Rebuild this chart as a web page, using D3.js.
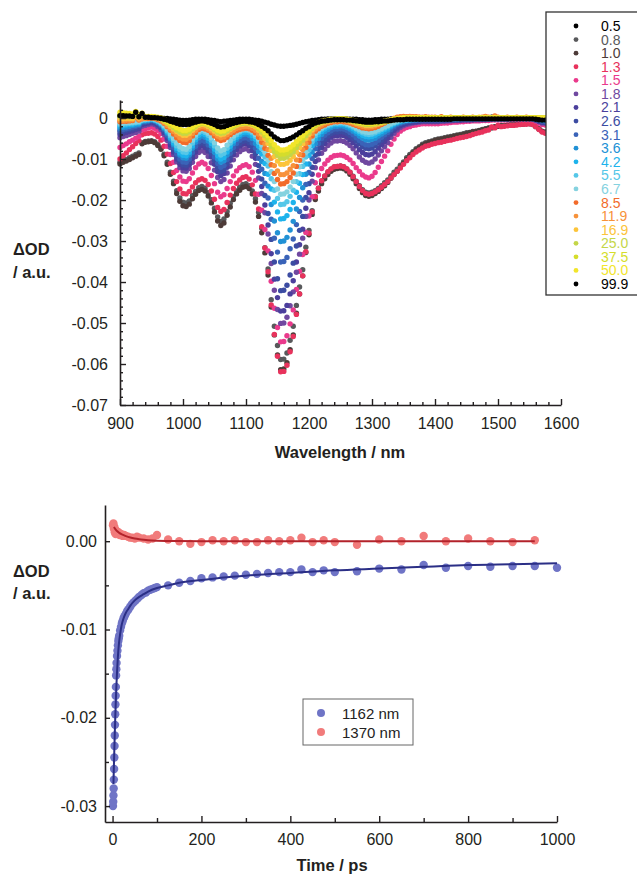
<!DOCTYPE html>
<html><head><meta charset="utf-8">
<script src="https://cdn.jsdelivr.net/npm/d3@7"></script>
<style>
body{margin:0;background:#fff}
svg{display:block}
text{font-family:"Liberation Sans",Arial,Helvetica,sans-serif}
</style>
</head><body>
<svg id="c" width="637" height="874"></svg>
<script>
// ---------- DATA : transient spectra (ΔOD × 10^4), wavelength grid 900–1580 nm, 5 nm step ----------
const wavelengths = d3.range(900, 1581, 5);
const delays = ["0.5","0.8","1.0","1.3","1.5","1.8","2.1","2.6","3.1","3.6","4.2","5.5","6.7","8.5","11.9","16.9","25.0","37.5","50.0","99.9"];

const od_0p5 = [4,4,3,3,3,12,2,9,1,1,1,1,0,0,-1,-1,-2,-3,-4,-5,-6,-6,-5,-4,-3,-3,-3,-3,-4,-5,-6,-8,-9,-8,-7,-6,-5,-4,-3,-3,-3,-3,-4,-5,-6,-8,-10,-12,-15,-17,-19,-20,-20,-19,-18,-17,-15,-13,-11,-9,-8,-6,-5,-4,-3,-3,-2,-2,-2,-2,-2,-2,-2,-3,-3,-3,-4,-4,-5,-5,-5,-4,-4,-3,-3,-3,-2,-2,-2,-1,-1,-1,-1,0,0,0,0,1,0,0,0,1,0,0,-1,0,0,1,0,0,0,0,1,0,0,0,-1,0,2,1,0,0,0,1,0,0,0,0,0,0,0,0,-1,-1,-2,-2,-3];
const od_0p8 = [-108,-104,-101,-97,-93,-89,-85,-60,-57,-56,-55,-58,-64,-73,-88,-108,-132,-154,-177,-195,-205,-207,-202,-189,-179,-170,-167,-171,-182,-199,-220,-241,-252,-246,-228,-208,-191,-178,-169,-162,-160,-165,-178,-197,-230,-269,-316,-368,-443,-508,-555,-589,-588,-573,-542,-508,-457,-412,-370,-315,-274,-226,-191,-171,-154,-142,-132,-125,-120,-118,-117,-119,-124,-132,-142,-154,-165,-175,-181,-183,-181,-177,-172,-165,-158,-151,-141,-132,-125,-115,-107,-97,-89,-82,-75,-70,-64,-60,-58,-56,-53,-51,-50,-48,-46,-45,-43,-41,-40,-38,-36,-35,-33,-32,-30,-28,-26,-24,-23,-21,-19,-18,-18,-17,-16,-16,-15,-14,-14,-13,-13,-15,-20,-26,-32,-34,-35];
const od_1p0 = [-112,-108,-105,-101,-97,-93,-89,-63,-59,-58,-57,-60,-67,-76,-92,-113,-137,-160,-184,-203,-214,-216,-210,-197,-186,-177,-174,-178,-190,-207,-229,-251,-262,-256,-237,-217,-199,-185,-176,-169,-167,-172,-185,-205,-240,-280,-329,-383,-461,-529,-578,-614,-612,-597,-565,-529,-476,-429,-385,-328,-285,-235,-199,-178,-160,-148,-138,-130,-125,-123,-122,-124,-129,-137,-148,-160,-172,-182,-189,-191,-189,-184,-179,-172,-165,-157,-147,-138,-130,-120,-111,-101,-93,-85,-78,-73,-67,-63,-60,-58,-55,-53,-52,-50,-48,-47,-45,-43,-42,-40,-38,-36,-34,-33,-31,-29,-27,-25,-24,-22,-20,-19,-19,-18,-17,-17,-16,-15,-15,-14,-14,-16,-21,-27,-33,-35,-36];
const od_1p3 = [-100,-92,-85,-77,-70,-62,-55,-41,-38,-37,-36,-39,-45,-54,-69,-88,-111,-133,-155,-173,-184,-185,-179,-168,-158,-151,-148,-152,-162,-178,-198,-218,-228,-223,-206,-188,-172,-159,-151,-145,-143,-149,-163,-185,-222,-265,-317,-375,-456,-528,-581,-619,-618,-603,-570,-533,-479,-429,-385,-326,-281,-229,-192,-171,-153,-141,-131,-124,-119,-118,-117,-119,-124,-132,-143,-155,-167,-177,-184,-186,-184,-180,-175,-169,-162,-155,-146,-138,-130,-122,-113,-104,-97,-89,-83,-78,-73,-69,-67,-64,-62,-60,-59,-57,-55,-54,-52,-50,-48,-47,-45,-43,-40,-38,-36,-34,-31,-29,-22,-24,-18,-21,-20,-19,-18,-18,-17,-16,-15,-15,-14,-16,-21,-28,-34,-37,-38];
const od_1p5 = [-72,-67,-63,-58,-54,-49,-45,-29,-26,-24,-22,-25,-30,-38,-51,-69,-89,-108,-128,-144,-154,-155,-148,-134,-121,-112,-108,-112,-123,-140,-160,-181,-192,-187,-172,-155,-141,-129,-121,-116,-114,-119,-132,-152,-186,-225,-272,-324,-398,-464,-511,-546,-545,-531,-502,-468,-418,-374,-333,-279,-239,-192,-158,-139,-123,-112,-103,-96,-92,-91,-90,-92,-96,-102,-111,-121,-130,-139,-144,-146,-142,-133,-120,-106,-93,-80,-64,-51,-40,-32,-27,-23,-21,-18,-17,-15,-14,-14,-14,-14,-14,-14,-13,-12,-12,-11,-10,-10,-9,-9,-8,-8,-7,-7,-7,-6,-6,-6,-5,-5,-5,-5,-5,-5,-4,-4,-4,-4,-4,-4,-4,-5,-8,-12,-16,-17,-18];
const od_1p8 = [-48,-45,-43,-40,-37,-35,-32,-20,-18,-16,-14,-16,-21,-28,-40,-55,-72,-89,-107,-121,-129,-130,-123,-108,-94,-84,-80,-84,-94,-109,-127,-145,-155,-150,-134,-117,-102,-90,-82,-77,-75,-80,-93,-113,-146,-184,-231,-283,-355,-420,-467,-501,-500,-486,-458,-424,-376,-332,-293,-240,-200,-154,-121,-102,-86,-76,-67,-61,-56,-56,-55,-57,-61,-67,-75,-85,-95,-103,-108,-110,-107,-100,-90,-80,-70,-60,-47,-37,-29,-23,-19,-16,-14,-12,-11,-10,-9,-9,-9,-9,-9,-9,-8,-8,-7,-7,-6,-6,-6,-5,-5,-5,-4,-4,-4,-4,-4,-3,-3,-3,-3,-3,-3,-3,-2,-2,-2,-2,-2,-2,-2,-3,-6,-9,-12,-13,-14];
const od_2p1 = [-40,-38,-35,-33,-31,-28,-26,-16,-14,-12,-10,-12,-17,-23,-35,-49,-66,-83,-100,-113,-121,-122,-114,-98,-83,-72,-68,-72,-81,-95,-113,-131,-140,-135,-120,-103,-89,-77,-69,-64,-62,-67,-79,-98,-130,-167,-212,-261,-331,-393,-438,-471,-470,-457,-429,-397,-351,-309,-271,-220,-182,-137,-106,-87,-72,-62,-54,-47,-43,-43,-42,-43,-47,-53,-60,-68,-77,-84,-89,-90,-88,-82,-73,-65,-57,-49,-39,-30,-24,-19,-15,-13,-11,-10,-9,-8,-7,-7,-7,-7,-7,-7,-6,-6,-6,-5,-5,-5,-5,-4,-4,-4,-4,-3,-3,-3,-3,-3,-2,-2,-2,-2,-2,-2,-2,-1,-1,-1,-1,-1,-1,-2,-4,-8,-10,-11,-12];
const od_2p6 = [-34,-32,-30,-28,-26,-24,-22,-13,-11,-10,-8,-10,-14,-21,-32,-45,-62,-78,-94,-106,-114,-115,-107,-90,-75,-64,-60,-64,-73,-87,-103,-121,-130,-126,-111,-95,-81,-69,-62,-57,-55,-60,-70,-87,-116,-149,-189,-233,-296,-351,-392,-421,-420,-408,-383,-354,-312,-274,-240,-194,-160,-120,-91,-75,-61,-52,-44,-38,-34,-34,-33,-34,-37,-42,-49,-56,-63,-70,-74,-75,-73,-68,-61,-54,-47,-40,-32,-25,-19,-15,-12,-10,-9,-7,-6,-6,-5,-5,-5,-5,-5,-5,-5,-4,-4,-4,-4,-3,-3,-3,-3,-3,-3,-2,-2,-2,-2,-2,-1,-1,-1,-1,-1,-1,-1,0,0,0,0,0,0,-1,-3,-6,-9,-10,-10];
const od_3p1 = [-30,-28,-26,-24,-22,-20,-18,-10,-9,-8,-6,-8,-12,-18,-28,-42,-57,-72,-88,-100,-107,-108,-100,-84,-69,-58,-54,-57,-66,-79,-95,-111,-120,-116,-101,-86,-72,-62,-54,-49,-48,-52,-61,-74,-98,-125,-159,-195,-247,-293,-327,-351,-350,-340,-319,-295,-260,-228,-200,-162,-133,-99,-75,-62,-50,-42,-36,-31,-27,-27,-26,-27,-30,-35,-41,-48,-55,-61,-65,-66,-64,-60,-54,-47,-41,-35,-28,-21,-16,-13,-10,-8,-7,-6,-5,-5,-4,-4,-4,-4,-4,-4,-4,-3,-3,-3,-3,-3,-2,-2,-2,-2,-2,-1,-1,-1,-1,-1,0,0,0,0,0,0,0,0,0,0,0,0,0,-1,-2,-5,-7,-8,-8];
const od_3p6 = [-25,-23,-22,-20,-18,-17,-15,-8,-7,-6,-4,-6,-10,-15,-25,-37,-51,-65,-79,-90,-97,-98,-90,-74,-59,-48,-44,-47,-56,-68,-84,-100,-108,-104,-90,-76,-62,-52,-45,-40,-39,-42,-50,-62,-82,-106,-135,-166,-211,-251,-280,-301,-300,-291,-273,-252,-222,-194,-170,-137,-112,-83,-62,-50,-40,-33,-28,-23,-20,-20,-19,-20,-23,-27,-32,-38,-44,-49,-53,-54,-52,-49,-44,-39,-34,-29,-22,-17,-13,-10,-8,-6,-5,-4,-4,-3,-3,-3,-3,-3,-3,-3,-3,-2,-2,-2,-2,-2,-1,-1,-1,-1,-1,-1,0,0,0,0,0,0,0,0,0,0,0,1,1,1,1,1,1,0,-1,-3,-5,-6,-6];
const od_4p2 = [-20,-19,-17,-16,-15,-13,-12,-6,-5,-4,-3,-5,-8,-14,-23,-34,-48,-61,-74,-85,-91,-92,-84,-68,-53,-42,-38,-41,-49,-62,-76,-92,-100,-96,-83,-69,-56,-47,-40,-35,-34,-36,-43,-52,-69,-88,-111,-137,-173,-205,-229,-246,-245,-238,-223,-206,-181,-159,-138,-112,-91,-68,-51,-41,-33,-27,-22,-19,-16,-16,-15,-16,-18,-22,-26,-32,-37,-42,-45,-46,-45,-42,-37,-33,-28,-24,-19,-14,-11,-8,-6,-5,-4,-3,-3,-2,-2,-2,-2,-2,-2,-2,-2,-2,-2,-2,-2,-2,-1,-1,-1,-1,-1,-1,-1,-1,0,-1,-1,-1,-1,-1,-1,-1,-1,-1,-1,-1,-1,-1,-1,-1,-2,-3,-4,-5,-5];
const od_5p5 = [-16,-15,-14,-13,-12,-11,-10,-5,-4,-3,-2,-4,-7,-12,-20,-31,-43,-55,-68,-77,-83,-84,-76,-61,-47,-36,-32,-35,-42,-54,-68,-82,-90,-86,-74,-61,-50,-41,-34,-30,-29,-31,-36,-45,-59,-75,-95,-117,-148,-176,-196,-211,-210,-204,-191,-176,-155,-136,-118,-95,-78,-58,-43,-34,-27,-22,-18,-15,-13,-13,-12,-13,-15,-18,-22,-27,-32,-36,-39,-40,-39,-36,-32,-28,-24,-20,-16,-12,-9,-6,-5,-4,-3,-2,-2,-1,-1,-1,-1,-1,-1,-1,-1,-1,-1,-1,-1,-1,0,-1,-1,-1,0,-1,-1,-1,-1,-1,0,-1,-1,-1,-1,-1,-1,-1,-1,-1,-1,-1,-1,-1,-2,-3,-3,-4,-4];
const od_6p7 = [-13,-12,-11,-11,-10,-9,-8,-4,-3,-2,-1,-3,-6,-10,-18,-27,-39,-50,-61,-70,-75,-76,-69,-54,-41,-32,-28,-31,-37,-48,-60,-73,-80,-77,-66,-55,-44,-36,-31,-27,-26,-28,-32,-40,-52,-66,-84,-103,-131,-155,-173,-186,-185,-180,-168,-155,-137,-119,-104,-84,-68,-50,-37,-30,-24,-19,-16,-13,-11,-11,-10,-11,-13,-16,-19,-24,-28,-32,-34,-35,-34,-32,-28,-25,-21,-18,-13,-10,-7,-5,-4,-2,-2,-1,-1,0,0,0,0,0,0,-1,-1,-1,0,-1,-1,-1,-1,-1,-1,-1,-1,-1,-1,0,-1,-1,-1,-1,-1,-1,-1,-1,-1,-1,-1,-1,-1,-1,-1,-1,-1,-2,-2,-3,-3];
const od_8p5 = [-9,-8,-8,-7,-6,2,-5,-2,-1,-1,0,-1,-4,-7,-13,-21,-30,-39,-48,-55,-59,-60,-55,-44,-35,-28,-25,-27,-30,-36,-44,-51,-55,-53,-47,-41,-35,-31,-28,-26,-25,-26,-30,-36,-47,-59,-74,-91,-114,-135,-150,-161,-160,-155,-145,-134,-118,-103,-90,-72,-59,-44,-32,-26,-20,-17,-13,-11,-9,-9,-8,-9,-10,-12,-15,-18,-21,-24,-25,-26,-25,-23,-20,-16,-12,-8,-4,-1,2,3,4,3,4,3,3,2,2,3,2,2,2,1,3,1,1,2,1,0,1,2,1,1,2,1,1,2,4,2,1,5,2,1,1,2,1,1,2,1,1,2,1,1,1,0,-1,-2,-2];
const od_11p9 = [-6,-6,-5,-5,-4,4,-3,-1,0,1,1,0,-2,-5,-11,-18,-26,-33,-41,-48,-51,-52,-47,-38,-30,-23,-21,-22,-26,-31,-38,-44,-48,-46,-41,-35,-30,-25,-23,-21,-20,-21,-25,-30,-39,-50,-63,-77,-98,-116,-129,-138,-138,-134,-125,-116,-102,-89,-77,-62,-50,-37,-27,-21,-17,-13,-11,-8,-7,-6,-6,-6,-8,-10,-12,-15,-18,-20,-22,-22,-21,-19,-16,-13,-10,-7,-4,-1,1,2,2,2,3,2,2,2,1,2,1,1,1,0,1,1,0,1,1,0,0,1,0,1,1,0,1,1,3,1,0,3,1,0,1,1,0,1,1,0,1,1,0,0,0,0,0,-1,-1];
const od_16p9 = [-2,-2,-1,-1,-1,6,0,5,1,2,2,1,0,-3,-8,-13,-20,-27,-33,-38,-42,-42,-38,-30,-23,-18,-16,-17,-21,-26,-32,-38,-41,-39,-34,-28,-23,-19,-16,-15,-14,-15,-18,-22,-30,-39,-50,-62,-79,-94,-105,-113,-113,-110,-103,-94,-83,-72,-63,-50,-40,-29,-21,-16,-12,-10,-8,-6,-5,-4,-4,-4,-5,-7,-9,-12,-14,-16,-18,-18,-17,-16,-14,-12,-10,-8,-6,-4,-2,-1,0,1,1,1,1,1,1,1,1,1,0,0,1,0,0,1,0,0,1,0,0,1,0,0,2,0,1,0,0,0,0,1,0,0,1,1,1,1,1,1,1,1,1,0,0,0,0];
const od_25p0 = [4,4,4,3,3,10,3,8,2,3,3,2,1,-2,-6,-11,-17,-23,-29,-34,-37,-37,-33,-26,-20,-15,-13,-14,-17,-22,-28,-34,-37,-36,-31,-25,-21,-17,-14,-13,-12,-13,-15,-19,-26,-34,-43,-54,-69,-82,-91,-98,-98,-95,-89,-82,-72,-62,-54,-43,-35,-25,-18,-14,-10,-8,-6,-5,-4,-3,-3,-3,-4,-6,-8,-10,-12,-14,-16,-16,-15,-14,-12,-11,-9,-7,-5,-3,-2,-1,0,1,1,1,1,1,1,1,1,1,0,0,0,0,0,0,0,0,0,0,0,0,0,0,0,0,0,0,0,0,0,0,0,0,0,0,0,0,0,0,1,1,0,0,0,0,0];
const od_37p5 = [8,7,7,6,6,13,5,10,3,3,3,2,1,-1,-5,-10,-15,-20,-26,-30,-33,-33,-30,-24,-18,-14,-12,-13,-16,-20,-26,-31,-34,-33,-28,-23,-19,-15,-13,-11,-11,-12,-14,-18,-24,-30,-39,-48,-62,-74,-82,-88,-88,-85,-80,-73,-64,-56,-48,-38,-31,-22,-16,-12,-9,-7,-5,-4,-3,-2,-2,-2,-3,-5,-6,-9,-11,-12,-14,-14,-14,-13,-11,-10,-8,-6,-5,-3,-2,-1,0,0,0,1,1,1,1,1,1,1,0,0,0,0,0,0,0,0,0,0,0,0,0,0,0,0,0,0,0,0,0,0,0,0,0,0,0,0,0,0,1,1,0,0,0,0,0];
const od_50p0 = [14,13,12,11,10,16,8,12,4,4,4,3,2,0,-3,-8,-13,-18,-23,-27,-30,-30,-27,-21,-16,-13,-11,-12,-15,-19,-24,-29,-32,-31,-26,-22,-17,-14,-12,-10,-10,-11,-13,-16,-21,-27,-35,-43,-55,-65,-73,-78,-78,-76,-71,-65,-57,-50,-43,-34,-27,-20,-14,-11,-8,-6,-5,-3,-3,-2,-2,-2,-3,-4,-6,-8,-10,-12,-13,-13,-13,-12,-10,-9,-7,-6,-4,-3,-2,-1,0,0,0,1,1,1,1,1,1,1,0,0,0,0,0,0,0,0,0,0,0,0,0,0,0,0,0,0,0,0,0,0,0,0,0,0,0,0,0,0,1,1,0,0,0,0,0];
const od_99p9 = [6,6,5,5,4,14,3,11,2,2,1,1,0,-1,-3,-5,-8,-10,-13,-15,-16,-16,-15,-12,-10,-8,-7,-8,-10,-13,-16,-20,-22,-21,-18,-15,-13,-11,-9,-8,-8,-9,-10,-12,-16,-20,-25,-31,-39,-46,-51,-55,-55,-53,-50,-46,-41,-36,-31,-25,-21,-16,-12,-10,-8,-7,-6,-5,-4,-4,-4,-4,-5,-5,-6,-7,-8,-9,-10,-10,-10,-9,-9,-8,-7,-7,-6,-5,-4,-4,-4,-3,-3,-3,-3,-3,-3,-3,-3,-3,-3,-3,-3,-3,-3,-3,-2,-2,-2,-2,-2,-2,-2,-2,-2,-2,-2,-2,-2,-2,-2,-2,-2,-2,-2,-2,-2,-2,-2,-2,-2,-2,-3,-4,-5,-5,-5];

const spectra = [od_0p5,od_0p8,od_1p0,od_1p3,od_1p5,od_1p8,od_2p1,od_2p6,od_3p1,od_3p6,od_4p2,od_5p5,od_6p7,od_8p5,od_11p9,od_16p9,od_25p0,od_37p5,od_50p0,od_99p9];
const delayColors = ["#000000","#58595b","#4d3b38","#e8325c","#ea3a8c","#7048a0","#4b3f9c","#3c4ca2","#3a63b8","#2191d5","#1db3ec","#55c7e8","#85d2df","#f26b2a","#f7923a","#fcc43a","#c4d649","#d5dd2b","#f2e52b","#000000"];

// ---------- DATA : kinetics (ΔOD × 10^4) ----------
const kinLabels = ["1162 nm","1370 nm"];
const t1162 = [1,1.5,2,2.5,3,3.5,4,4.5,5,5.5,6,6.5,7,7.5,8,8.5,9,10,11,12,13,14,15,17,19,21,23,25,27,30,33,36,40,44,48,52,56,60,65,70,75,80,85,90,95,100,125,150,175,200,225,250,275,300,325,350,375,400,425,450,475,500,550,600,650,700,750,800,850,900,950,1000];
const od1162 = [-300,-295,-288,-280,-270,-258,-245,-232,-220,-208,-196,-185,-175,-165,-152,-145,-138,-130,-124,-118,-113,-110,-107,-101,-97,-93,-90,-87,-85,-82,-79,-77,-74,-71,-69,-67,-65,-63,-61,-59,-58,-56,-55,-54,-53,-52,-50,-47,-45,-42,-41,-40,-39,-38,-37,-36,-35,-35,-32,-35,-33,-35,-34,-31,-32,-27,-30,-28,-29,-28,-28,-30];
const t1370 = [1,2,3,4,5,6,7,8,10,12,14,16,18,20,23,26,30,35,40,45,50,55,60,70,80,90,100,125,150,175,200,225,250,275,300,325,350,375,400,425,450,475,500,550,600,650,700,750,800,850,900,950];
const od1370 = [18,20,14,16,10,13,8,12,11,9,10,7,8,8,6,7,6,5,4,4,3,5,4,3,2,3,7,2,0,-3,-1,1,0,1,-1,-1,1,0,1,4,-1,1,-1,-4,2,0,6,0,3,0,-1,1];
const fitT1162 = [2,3,4,5,6,7,8,9,10,12,14,16,18,20,25,30,35,40,50,60,70,80,100,125,150,200,250,300,400,500,600,700,800,900,1000];
const fitOD1162 = [-275,-255,-236,-218,-201,-186,-172,-160,-149,-131,-118,-109,-102,-96,-87,-81,-77,-73,-67,-63,-60,-57,-53,-50,-47,-44,-41,-39,-36,-33,-31,-29,-27,-26,-25];
const fitT1370 = [3,5,8,10,15,20,25,30,40,50,60,70,80,100,125,150,200,300,950];
const fitOD1370 = [16,14.5,12.5,11.5,9.5,8,6.8,5.8,4.2,3.1,2.3,1.7,1.2,0.6,0.3,0.1,0,0,0];

// ---------- DRAW ----------
const svg = d3.select("#c");
const AX = "#231f20";
const U = 1e-4;

function styleAxis(g, fs){
  g.select(".domain").attr("stroke", AX).attr("stroke-width", 1.6);
  g.selectAll(".tick line").attr("stroke", AX).attr("stroke-width", 1.4);
  g.selectAll(".tick text").attr("fill", AX).style("font-size", fs + "px")
    .style("font-family", '"Liberation Sans", Arial, sans-serif');
}

// ===== Top chart =====
const xW = d3.scaleLinear().domain([900, 1600]).range([120, 561]);
const yW = d3.scaleLinear().domain([-0.07, 0.0044]).range([405, 100]);

const dots = svg.append("g");
spectra.forEach((arr, i) => {
  dots.append("g").attr("fill", delayColors[i])
    .selectAll("circle").data(wavelengths.map((w, j) => [w, arr[j] * U]))
    .join("circle")
    .attr("cx", d => xW(d[0])).attr("cy", d => yW(d[1])).attr("r", 2.7);
});

const majW = d3.range(900, 1601, 100);
const minW = d3.range(900, 1601, 20).filter(v => v % 100 !== 0);
svg.append("g").attr("transform", "translate(0,405)")
  .call(d3.axisBottom(xW).tickValues(minW).tickSize(-3).tickFormat(""))
  .call(g => g.select(".domain").remove())
  .call(g => styleAxis(g, 16));
svg.append("g").attr("transform", "translate(0,405)")
  .call(d3.axisBottom(xW).tickValues(majW).tickSizeInner(-6).tickSizeOuter(0).tickPadding(13).tickFormat(d3.format("d")))
  .call(g => styleAxis(g, 16));

const majOD = [0, -0.01, -0.02, -0.03, -0.04, -0.05, -0.06, -0.07];
const minOD = d3.range(-70, 5, 2).filter(v => v % 10 !== 0).map(v => v / 1000);
svg.append("g").attr("transform", "translate(120,0)")
  .call(d3.axisLeft(yW).tickValues(minOD).tickSize(-3).tickFormat(""))
  .call(g => g.select(".domain").remove())
  .call(g => styleAxis(g, 16));
svg.append("g").attr("transform", "translate(120,0)")
  .call(d3.axisLeft(yW).tickValues(majOD).tickSizeInner(-6).tickSizeOuter(0).tickPadding(12)
    .tickFormat(d => d === 0 ? "0" : d.toFixed(2)))
  .call(g => styleAxis(g, 16));

svg.append("text").attr("x", 340).attr("y", 458).attr("text-anchor", "middle")
  .style("font-size", "16.5px").style("font-weight", "bold").attr("fill", AX).text("Wavelength / nm");
svg.append("text").attr("x", 13).attr("y", 255).style("font-size", "16.5px").style("font-weight", "bold").attr("fill", AX).text("ΔOD");
svg.append("text").attr("x", 13).attr("y", 278).style("font-size", "16.5px").style("font-weight", "bold").attr("fill", AX).text("/ a.u.");

// legend (top)
svg.append("rect").attr("x", 546).attr("y", 12).attr("width", 100).attr("height", 283)
  .attr("fill", "#fff").attr("stroke", "#333").attr("stroke-width", 1.3);
const lg = svg.append("g");
delays.forEach((lab, i) => {
  const y = 26 + i * 13.58;
  lg.append("circle").attr("cx", 576).attr("cy", y).attr("r", 2.4).attr("fill", delayColors[i]);
  lg.append("text").attr("x", 601).attr("y", y + 5).style("font-size", "14px")
    .attr("fill", delayColors[i]).text(lab);
});

// ===== Bottom chart =====
const xT = d3.scaleLinear().domain([-17, 1000]).range([105, 557]);
const yT = d3.scaleLinear().domain([-0.0318, 0.0041]).range([822, 505]);
const kinColors = ["#6f74c6", "#f17b7b"];
const fitColors = ["#2b2f86", "#b3232b"];

svg.append("g").attr("fill", kinColors[0]).selectAll("circle")
  .data(t1162.map((t, i) => [t, od1162[i] * U])).join("circle")
  .attr("cx", d => xT(d[0])).attr("cy", d => yT(d[1])).attr("r", 4.2);
svg.append("g").attr("fill", kinColors[1]).selectAll("circle")
  .data(t1370.map((t, i) => [t, od1370[i] * U])).join("circle")
  .attr("cx", d => xT(d[0])).attr("cy", d => yT(d[1])).attr("r", 4.2);

const ln = d3.line().x(d => xT(d[0])).y(d => yT(d[1])).curve(d3.curveMonotoneX);
svg.append("path").datum(fitT1162.map((t, i) => [t, fitOD1162[i] * U]))
  .attr("d", ln).attr("fill", "none").attr("stroke", fitColors[0]).attr("stroke-width", 2);
svg.append("path").datum(fitT1370.map((t, i) => [t, fitOD1370[i] * U]))
  .attr("d", ln).attr("fill", "none").attr("stroke", fitColors[1]).attr("stroke-width", 2);

const majT = [0, 200, 400, 600, 800, 1000];
const minT = [100, 300, 500, 700, 900];
svg.append("g").attr("transform", "translate(0,822)")
  .call(d3.axisBottom(xT).tickValues(minT).tickSize(-4).tickFormat(""))
  .call(g => g.select(".domain").remove())
  .call(g => styleAxis(g, 16));
svg.append("g").attr("transform", "translate(0,822)")
  .call(d3.axisBottom(xT).tickValues(majT).tickSizeInner(-6).tickSizeOuter(0).tickPadding(12).tickFormat(d3.format("d")))
  .call(g => styleAxis(g, 16));

const majK = [0, -0.01, -0.02, -0.03];
const minK = [-0.005, -0.015, -0.025];
svg.append("g").attr("transform", "translate(105,0)")
  .call(d3.axisLeft(yT).tickValues(minK).tickSize(-4).tickFormat(""))
  .call(g => g.select(".domain").remove())
  .call(g => styleAxis(g, 16));
svg.append("g").attr("transform", "translate(105,0)")
  .call(d3.axisLeft(yT).tickValues(majK).tickSizeInner(-5).tickSizeOuter(0).tickPadding(8)
    .tickFormat(d => d.toFixed(2)))
  .call(g => styleAxis(g, 16));

svg.append("text").attr("x", 332).attr("y", 871).attr("text-anchor", "middle")
  .style("font-size", "16.5px").style("font-weight", "bold").attr("fill", AX).text("Time / ps");
svg.append("text").attr("x", 13).attr("y", 577).style("font-size", "16.5px").style("font-weight", "bold").attr("fill", AX).text("ΔOD");
svg.append("text").attr("x", 13).attr("y", 599).style("font-size", "16.5px").style("font-weight", "bold").attr("fill", AX).text("/ a.u.");

// legend (bottom)
svg.append("rect").attr("x", 303).attr("y", 699).attr("width", 110).attr("height", 46)
  .attr("fill", "#fff").attr("stroke", "#666").attr("stroke-width", 1);
kinLabels.forEach((lab, i) => {
  const y = 713 + i * 19;
  svg.append("circle").attr("cx", 321).attr("cy", y).attr("r", 4).attr("fill", kinColors[i]);
  svg.append("text").attr("x", 342).attr("y", y + 5.5).style("font-size", "15px").attr("fill", "#222").text(lab);
});
</script>
</body></html>
